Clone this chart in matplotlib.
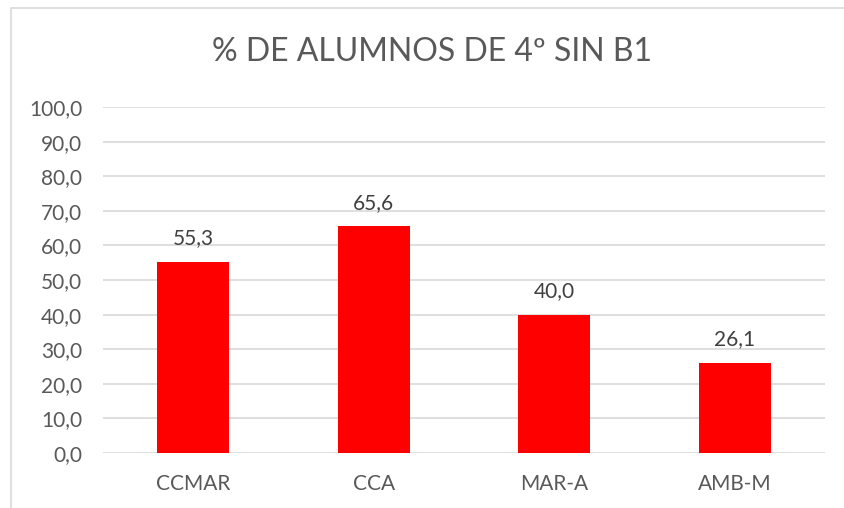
import matplotlib.pyplot as plt
from matplotlib.patches import Rectangle

categorias = ["CCMAR", "CCA", "MAR-A", "AMB-M"]
valores = [55.3, 65.6, 40.0, 26.1]
ticks_y = [0, 10, 20, 30, 40, 50, 60, 70, 80, 90, 100]

plt.rcParams['font.family'] = ['Lato', 'DejaVu Sans']
gris = "#595959"

fig = plt.figure(figsize=(8.44, 5.08), dpi=100)
# borde del grafico (sale por la derecha y abajo)
fig.patches.append(Rectangle((11 / 844, -0.05), 1.2, 1 - 8 / 508 + 0.05,
                             transform=fig.transFigure, fill=False,
                             edgecolor="#d9d9d9", linewidth=1.2))

ax = fig.add_axes([103 / 844, 1 - 453 / 508, (825 - 103) / 844, (453 - 107) / 508])
x = range(len(categorias))
barras = ax.bar(x, valores, width=0.4, color="#ff0000", zorder=3)
for b, v in zip(barras, valores):
    ax.text(b.get_x() + b.get_width() / 2, v + 5, f"{v:.1f}".replace(".", ","),
            ha="center", va="baseline", fontsize=15, color="#404040")

ax.set_xlim(-0.5, len(categorias) - 0.5)
ax.set_ylim(0, 100)
ax.set_yticks(ticks_y)
ax.set_yticklabels([f"{t:.1f}".replace(".", ",") for t in ticks_y])
ax.set_xticks(list(x))
ax.set_xticklabels(categorias)
ax.grid(axis="y", color="#d9d9d9", linewidth=1.2, zorder=0)
for s in ax.spines.values():
    s.set_visible(False)
ax.tick_params(axis="both", length=0, labelsize=15, labelcolor=gris)
ax.tick_params(axis="y", pad=15)
ax.tick_params(axis="x", pad=15)

fig.text(432 / 844, 1 - 52 / 508, "% DE ALUMNOS DE 4º SIN B1", ha="center", va="center",
         fontsize=23, color=gris)

plt.savefig("out.png", dpi=100)
